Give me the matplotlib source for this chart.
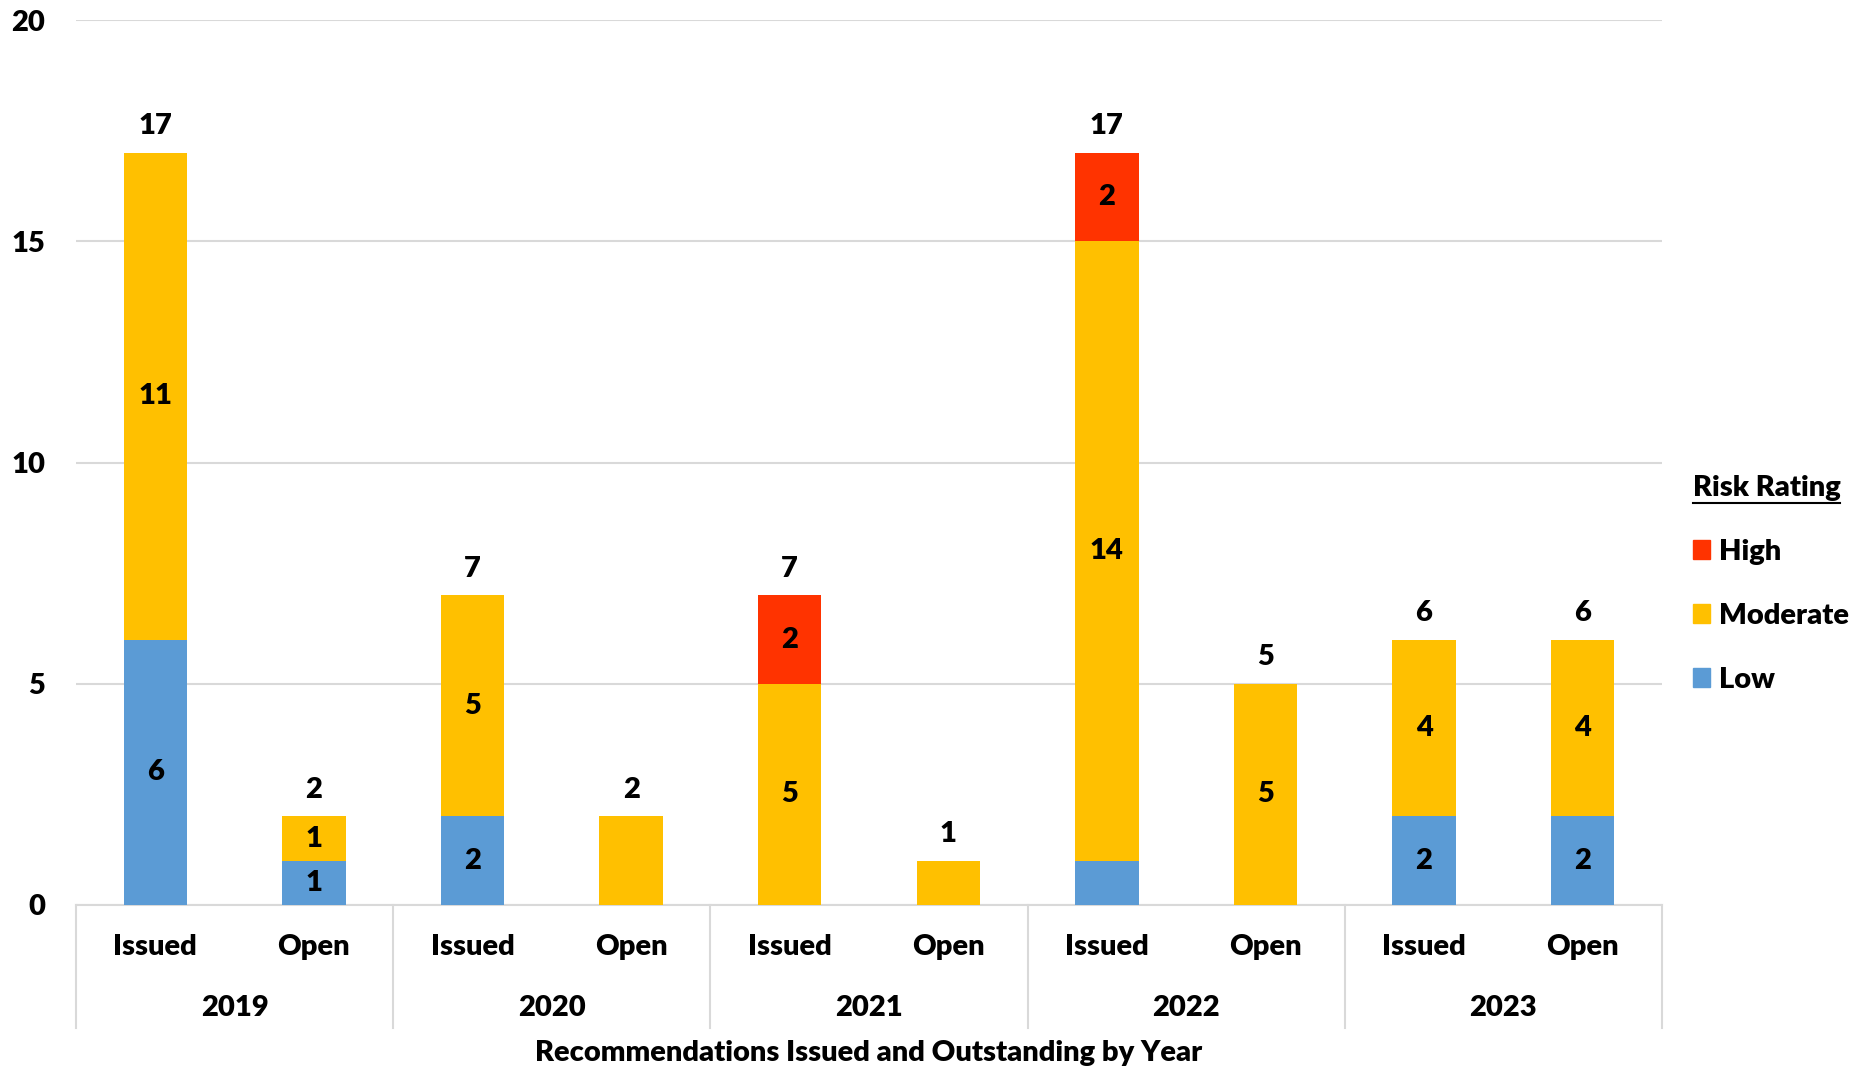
import matplotlib
matplotlib.use("Agg")
import matplotlib.pyplot as plt
import matplotlib.transforms as mtransforms
from matplotlib.patches import Patch
from matplotlib.lines import Line2D
import numpy as np

plt.rcParams["font.family"] = ["Lato", "DejaVu Sans"]
plt.rcParams["font.weight"] = "heavy"

YEARS = ["2019", "2020", "2021", "2022", "2023"]
KINDS = ["Issued", "Open"]
LOW = [6, 1, 2, 0, 0, 0, 1, 0, 2, 2]
MODERATE = [11, 1, 5, 2, 5, 1, 14, 5, 4, 4]
HIGH = [0, 0, 0, 0, 2, 0, 2, 0, 0, 0]
# which segment values carry a label in the original chart
SHOW_LOW = [True, True, True, False, False, False, False, False, True, True]
SHOW_MOD = [True, True, True, False, True, False, True, True, True, True]
SHOW_HIGH = [False, False, False, False, True, False, True, False, False, False]

LOW_COLOR = "#5B9BD5"
MOD_COLOR = "#FFC000"
HIGH_COLOR = "#FF3300"
GRID_COLOR = "#D9D9D9"
FS = 21

fig = plt.figure(figsize=(18.64, 10.71), dpi=100)
ax = fig.add_axes([0.0408, 0.155, 0.8508, 0.8263])

x = np.arange(len(LOW))
low = np.array(LOW)
mod = np.array(MODERATE)
high = np.array(HIGH)
w = 0.4

ax.bar(x, low, w, color=LOW_COLOR, zorder=3)
ax.bar(x, mod, w, bottom=low, color=MOD_COLOR, zorder=3)
ax.bar(x, high, w, bottom=low + mod, color=HIGH_COLOR, zorder=3)

for i in range(len(x)):
    if SHOW_LOW[i] and low[i] > 0:
        ax.text(x[i], low[i] / 2, str(low[i]), ha="center", va="center", fontsize=FS, zorder=4)
    if SHOW_MOD[i] and mod[i] > 0:
        ax.text(x[i], low[i] + mod[i] / 2, str(mod[i]), ha="center", va="center", fontsize=FS, zorder=4)
    if SHOW_HIGH[i] and high[i] > 0:
        ax.text(x[i], low[i] + mod[i] + high[i] / 2, str(high[i]), ha="center", va="center", fontsize=FS, zorder=4)
    total = low[i] + mod[i] + high[i]
    ax.annotate(str(total), (x[i], total), xytext=(0, 19), textcoords="offset points",
                ha="center", va="center", fontsize=FS)

ax.set_xlim(-0.5, len(x) - 0.5)
ax.set_ylim(0, 20)
ax.set_yticks([0, 5, 10, 15, 20])
ax.tick_params(axis="y", length=0, pad=22, labelsize=FS)
ax.set_xticks([])
ax.grid(axis="y", color=GRID_COLOR, linewidth=1.5, zorder=0)
for s in ["top", "right", "left"]:
    ax.spines[s].set_visible(False)
ax.spines["bottom"].set_color(GRID_COLOR)
ax.spines["bottom"].set_linewidth(1.5)

# two-level category axis
trans = mtransforms.blended_transform_factory(ax.transData, ax.transAxes)
for b in np.arange(-0.5, len(x), 2):
    ax.plot([b, b], [0, -0.139], transform=trans, color=GRID_COLOR, linewidth=1.5, clip_on=False)
for i in range(len(x)):
    ax.text(x[i], -0.0475, KINDS[i % 2], transform=trans, ha="center", va="center", fontsize=FS)
for j, yr in enumerate(YEARS):
    ax.text(2 * j + 0.5, -0.116, yr, transform=trans, ha="center", va="center", fontsize=FS)
ax.text(4.5, -0.167, "Recommendations Issued and Outstanding by Year", transform=trans,
        ha="center", va="center", fontsize=FS)

# legend
handles = [Patch(color=HIGH_COLOR, label="High"),
           Patch(color=MOD_COLOR, label="Moderate"),
           Patch(color=LOW_COLOR, label="Low")]
leg = fig.legend(handles=handles, loc="upper left", bbox_to_anchor=(0.894, 0.581),
                 frameon=False, fontsize=FS, title="Risk Rating",
                 title_fontproperties={"weight": "heavy", "size": FS},
                 handlelength=0.6, handleheight=0.6, handletextpad=0.3,
                 labelspacing=1.3, alignment="left")
fig.canvas.draw()
bb = leg.get_title().get_window_extent().transformed(fig.transFigure.inverted())
fig.add_artist(Line2D([bb.x0, bb.x1], [bb.y0 - 0.002, bb.y0 - 0.002],
                      transform=fig.transFigure, color="black", linewidth=1.5))

fig.savefig("out.png", dpi=100)
